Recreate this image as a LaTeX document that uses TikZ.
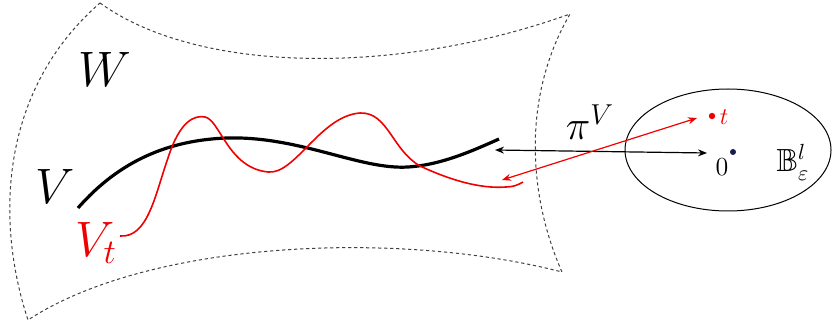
\documentclass[tikz,border=0pt]{standalone}
\usepackage{amssymb}
\usetikzlibrary{arrows.meta,shapes.geometric}
\definecolor{redc}{RGB}{240,0,0}
\definecolor{dotblue}{RGB}{20,30,80}
\begin{document}
\begin{tikzpicture}[x=0.5pt,y=-0.5pt,
  bnd/.style={draw=black!75,line width=0.5pt,dash pattern=on 1.6pt off 1.4pt},
  curveV/.style={draw=black,line width=1.6pt},
  curveR/.style={draw=redc,line width=0.8pt},
  arr/.style={line width=0.6pt,{Stealth[length=4.5pt,width=3.5pt]}-{Stealth[length=4.5pt,width=3.5pt]}},
  lab/.style={inner sep=0pt}]
\useasboundingbox (0,0) rectangle (838,325);
% surface W
\draw[bnd] (100,3) .. controls (200,75) and (400,75) .. (570,14)
  .. controls (520,100) and (530,200) .. (562,272)
  .. controls (400,230) and (150,240) .. (28,320)
  .. controls (-5,220) and (0,90) .. (100,3);
% curve V
\draw[curveV] (78,208) .. controls (120,160) and (170,140) .. (227,138)
  .. controls (300,136) and (360,170) .. (408,167)
  .. controls (440,165) and (470,152) .. (499,139);
% curve V_t
\draw[curveR] (120,236) .. controls (148,238) and (155,195) .. (168,158)
  .. controls (180,120) and (195,115) .. (205,117)
  .. controls (220,120) and (228,168) .. (268,172)
  .. controls (295,175) and (320,116) .. (360,113)
  .. controls (388,112) and (392,150) .. (420,166)
  .. controls (450,180) and (480,189) .. (506,187)
  .. controls (513,187) and (518,185) .. (523,182);
% ball
\node[draw=black,line width=0.5pt,ellipse,minimum width=103pt,minimum height=61pt,inner sep=0pt] (ball) at (728,150) {};
% points
\coordinate (bl) at (495,150);
\coordinate (br) at (707,153);
\coordinate (rl) at (502,180);
\coordinate (rr) at (697,118);
\fill[redc] (712,116) circle (1.6pt);
\fill[dotblue] (733,152) circle (1.5pt);
% arrows
\draw[arr,black] (bl) -- (br);
\draw[arr,redc] (rl) -- (rr);
% labels
\node[lab] (W) at (105,70) {\fontsize{23}{26}\selectfont $W$};
\node[lab] (V) at (55,186) {\fontsize{25}{28}\selectfont $V$};
\node[lab,text=redc] (Vt) at (96,243) {\fontsize{23}{26}\selectfont $V_t$};
\node[lab] (pi) at (590,122) {\fontsize{20}{24}\selectfont $\pi^V$};
\node[lab] (zero) at (722,167) {\fontsize{13}{15}\selectfont 0};
\node[lab,text=redc] (t) at (724,117) {\fontsize{12}{14}\selectfont $t$};
\node[lab] (B) at (793,162) {\fontsize{16}{19}\selectfont $\mathbb{B}^l_\varepsilon$};
\end{tikzpicture}
\end{document}
